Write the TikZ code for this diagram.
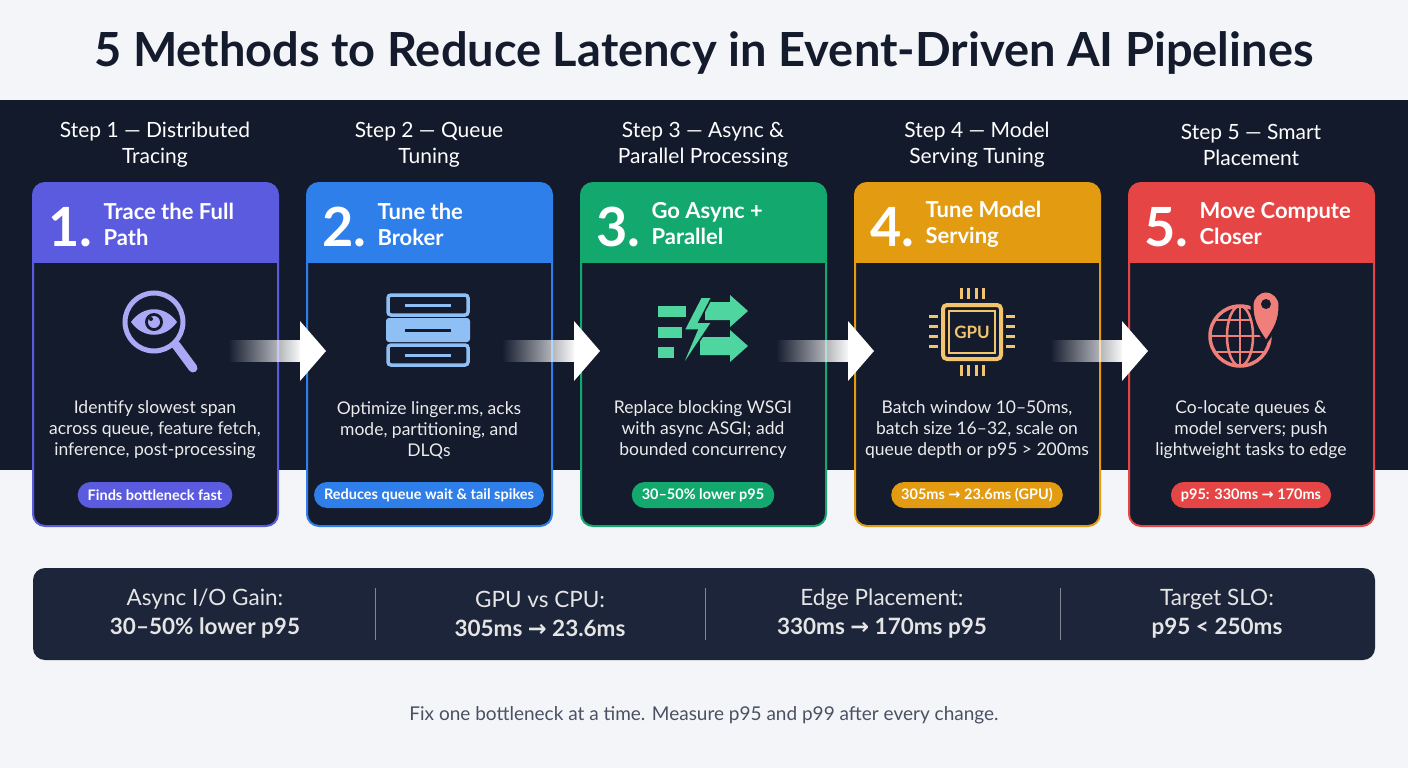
\documentclass[tikz,border=0pt]{standalone}
\usepackage{fontspec}
\setmainfont{Lato}
\newfontfamily\dejavu{DejaVu Sans}
\newcommand{\arr}{{\dejavu →}}
\usetikzlibrary{fadings,shapes.geometric}
\definecolor{bg}{HTML}{F3F5F8}
\definecolor{band}{HTML}{131A2B}
\definecolor{cardbg}{HTML}{141B2D}
\definecolor{statbg}{HTML}{1C2539}
\definecolor{cA}{HTML}{5B5BE0}
\definecolor{cB}{HTML}{2F7FEA}
\definecolor{cC}{HTML}{13A86E}
\definecolor{cD}{HTML}{E39B12}
\definecolor{cE}{HTML}{E54545}
\definecolor{iA}{HTML}{ABA8F5}
\definecolor{iB}{HTML}{8EC0F5}
\definecolor{iC}{HTML}{4FD6A0}
\definecolor{iD}{HTML}{F2C46E}
\definecolor{iE}{HTML}{F07F7A}
\definecolor{titlec}{HTML}{141B2D}
\definecolor{foot}{HTML}{4A5162}
\tikzset{
 steplab/.style={text=white,font=\fontsize{21}{26}\selectfont,align=center},
 num/.style={text=white,font=\bfseries\fontsize{54}{54}\selectfont,anchor=west},
 ctitle/.style={text=white,font=\bfseries\fontsize{22}{26}\selectfont,anchor=west,align=left},
 desc/.style={text=white!92!black,font=\fontsize{17.5}{21}\selectfont,align=center},
 badge/.style={rounded corners=13pt,minimum height=26pt,inner xsep=10pt,text=white,font=\bfseries\fontsize{14.5}{14.5}\selectfont},
 statl/.style={text=white!90!black,font=\fontsize{22.5}{29}\selectfont,align=center},
}
\newcommand{\mycard}[2]{%
 \fill[cardbg,rounded corners=12pt] (#1,183) rectangle ++(245,343);
 \begin{scope}
 \clip[rounded corners=12pt] (#1,183) rectangle ++(245,343);
 \fill[#2] (#1,183) rectangle ++(245,80);
 \end{scope}
 \draw[#2,line width=2pt,rounded corners=12pt] (#1,183) rectangle ++(245,343);
}
\newcommand{\myarrow}[1]{%
 \fill[white,path fading=west] (#1,340) rectangle (#1+74,362);
 \fill[white] (#1+72,321) -- (#1+98,351) -- (#1+72,381) -- cycle;
}
\begin{document}
\begin{tikzpicture}[x=1pt,y=-1pt]
\fill[bg] (0,0) rectangle (1408,768);
\useasboundingbox (0,0) rectangle (1408,768);
\node[text=titlec,font=\bfseries\fontsize{47}{47}\selectfont] (title) at (704,53) {5 Methods to Reduce Latency in Event-Driven AI Pipelines};
\fill[band] (0,100) rectangle (1408,470);
\node[steplab] (s1) at (155,145) {Step 1 — Distributed\\Tracing};
\node[steplab] (s2) at (429,145) {Step 2 — Queue\\Tuning};
\node[steplab] (s3) at (703,145) {Step 3 — Async \&\\Parallel Processing};
\node[steplab] (s4) at (977,145) {Step 4 — Model\\Serving Tuning};
\node[steplab] (s5) at (1251,145) {Step 5 — Smart\\Placement};
\mycard{33}{cA}
\mycard{307}{cB}
\mycard{581}{cC}
\mycard{855}{cD}
\mycard{1129}{cE}
\foreach \x/\n/\t in {33/1./{Trace the Full\\Path},307/2./{Tune the\\Broker},581/3./{Go Async +\\Parallel},855/4./{Tune Model\\Serving},1129/5./{Move Compute\\Closer}}{
 \node[num] (n\x) at (\x+12,227) {\n};
 \node[ctitle] (t\x) at (\x+67,224) {\t};
}
\myarrow{228}
\myarrow{502}
\myarrow{776}
\myarrow{1050}
% icon 1 magnifier
\draw[iA,line width=5pt] (154,322) circle (29);
\draw[iA,line width=9pt,line cap=round] (176,345) -- (193,368);
\fill[iA] (131,322) .. controls (143,305) and (165,305) .. (177,322) .. controls (165,339) and (143,339) .. (131,322) -- cycle;
\fill[cardbg] (154,322) circle (9);
\fill[iA] (154,322) circle (6);
\fill[cardbg] (151,319) circle (2);
% icon 2 server
\draw[iB,line width=3.5pt,rounded corners=3pt] (388,295) rectangle (468,315);
\draw[iB,line width=3pt] (405,305) -- (451,305);
\fill[iB,rounded corners=3pt] (386,318) rectangle (470,342);
\draw[cardbg,line width=3pt] (405,330) -- (451,330);
\draw[iB,line width=3.5pt,rounded corners=3pt] (388,345) rectangle (468,365);
\draw[iB,line width=3pt] (405,355) -- (451,355);
% icon 3 async
\fill[iC] (658,306) rectangle (686,317);
\fill[iC] (658,327) rectangle (682,338);
\fill[iC] (658,347) rectangle (674,358);
\fill[iC] (705,302) -- (730,302) -- (730,295) -- (748,311) -- (730,327) -- (730,320) -- (705,320) -- cycle;
\fill[iC] (700,337) -- (730,337) -- (730,330) -- (748,346) -- (730,362) -- (730,355) -- (700,355) -- cycle;
\fill[iC] (701,297) -- (684,330) -- (697,330) -- (680,370) -- (712,322) -- (699,322) -- (712,297) -- cycle;
\draw[cardbg,line width=1.5pt] (701,297) -- (684,330) -- (697,330) -- (680,370) -- (712,322) -- (699,322) -- (712,297) -- cycle;
% icon 4 gpu
\draw[iD,line width=4pt,rounded corners=4pt] (943,305) rectangle (1001,359);
\draw[iD,line width=2pt] (949,311) rectangle (995,353);
\node[text=iD,font=\bfseries\fontsize{17}{17}\selectfont] (gpu) at (972,332) {GPU};
\foreach \i in {0,1,2,3}{
 \draw[iD,line width=3pt] (961+\i*7.5,288) -- (961+\i*7.5,299);
 \draw[iD,line width=3pt] (961+\i*7.5,365) -- (961+\i*7.5,376);
 \draw[iD,line width=3pt] (929,316+\i*10) -- (938,316+\i*10);
 \draw[iD,line width=3pt] (1006,316+\i*10) -- (1015,316+\i*10);
}
% icon 5 globe + pin
\draw[iE,line width=3.5pt] (1240,336) circle (30);
\draw[iE,line width=2.5pt] (1240,336) ellipse (13 and 30);
\draw[iE,line width=2.5pt] (1210,336) -- (1270,336);
\draw[iE,line width=2.5pt] (1214,320) -- (1266,320);
\draw[iE,line width=2.5pt] (1214,352) -- (1266,352);
\draw[iE,line width=2.5pt] (1240,306) -- (1240,366);
\fill[iE,draw=cardbg,line width=3pt] (1266,342) .. controls (1256,328) and (1252,320) .. (1252,305) arc (180:360:14) .. controls (1280,320) and (1276,328) .. (1266,342) -- cycle;
\fill[cardbg] (1266,304) circle (5);
% descriptions
\node[desc] (d1) at (155,430) {Identify slowest span\\across queue, feature fetch,\\inference, post-processing};
\node[desc] (d2) at (429,430) {Optimize linger.ms, acks\\mode, partitioning, and\\DLQs};
\node[desc] (d3) at (703,430) {Replace blocking WSGI\\with async ASGI; add\\bounded concurrency};
\node[desc] (d4) at (977,430) {Batch window 10–50ms,\\batch size 16–32, scale on\\queue depth or p95 > 200ms};
\node[desc] (d5) at (1251,430) {Co-locate queues \&\\model servers; push\\lightweight tasks to edge};
% badges
\node[badge,fill=cA] (b1) at (155,495) {Finds bottleneck fast};
\node[badge,fill=cB] (b2) at (429,495) {Reduces queue wait \& tail spikes};
\node[badge,fill=cC] (b3) at (703,495) {30–50\% lower p95};
\node[badge,fill=cD] (b4) at (977,495) {305ms \arr{} 23.6ms (GPU)};
\node[badge,fill=cE] (b5) at (1251,495) {p95: 330ms \arr{} 170ms};
% stats
\fill[statbg,rounded corners=12pt] (33,568) rectangle (1375,660);
\foreach \x in {375,705,1060}{\draw[white!45!statbg,line width=1pt] (\x,588) -- (\x,640);}
\node[statl] (st1) at (205,614) {Async I/O Gain:\\\textbf{30–50\% lower p95}};
\node[statl] (st2) at (540,614) {GPU vs CPU:\\\textbf{305ms \arr{} 23.6ms}};
\node[statl] (st3) at (882,614) {Edge Placement:\\\textbf{330ms \arr{} 170ms p95}};
\node[statl] (st4) at (1217,614) {Target SLO:\\\textbf{p95 < 250ms}};
\node[text=foot,font=\fontsize{19}{19}\selectfont] (footer) at (704,715) {Fix one bottleneck at a time. Measure p95 and p99 after every change.};
\end{tikzpicture}
\end{document}
